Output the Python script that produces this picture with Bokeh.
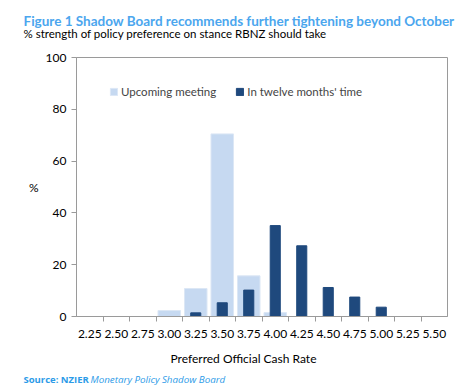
from bokeh.plotting import figure
from bokeh.models import ColumnDataSource, FixedTicker, Label, Legend, LegendItem, Range1d
from bokeh.embed import file_html
from bokeh.resources import INLINE

# ---- data ----
rates = ["2.25", "2.50", "2.75", "3.00", "3.25", "3.50", "3.75",
         "4.00", "4.25", "4.50", "4.75", "5.00", "5.25", "5.50"]
upcoming = [0, 0, 0, 2.3, 10.8, 70.5, 15.7, 1.5, 0, 0, 0, 0, 0, 0]
twelve = [0, 0, 0, 0, 1.4, 5.3, 10.2, 35.1, 27.3, 11.2, 7.5, 3.6, 0, 0]
y_ticks = [0, 20, 40, 60, 80, 100]

title_text = "Figure 1 Shadow Board recommends further tightening beyond October"
subtitle_text = "% strength of policy preference on stance RBNZ should take"
x_label = "Preferred  Official Cash Rate"
y_label = "%"
source_a = "Source: NZIER"
source_b = "Monetary Policy Shadow Board"
names = ["Upcoming meeting", "In twelve months' time"]

FONT = "Lato"
LIGHT = "#C6D9F1"
DARK = "#1F497D"
GRID = "#9A9A9A"
TITLE_BLUE = "#4BA6EE"
SRC_BLUE = "#2C9BE8"

xs = list(range(len(rates)))
src = ColumnDataSource(dict(x=xs, up=upcoming, tw=twelve))

W, H = 470, 388
p = figure(width=W, height=H, output_backend="svg", toolbar_location=None,
           x_range=Range1d(-0.5, len(rates) - 0.5), y_range=Range1d(0, 100),
           min_border_left=76, min_border_right=W - 447, min_border_top=57,
           min_border_bottom=H - 316)
p.title = None
p.outline_line_color = GRID
p.outline_line_width = 1
p.xgrid.visible = False
p.ygrid.visible = False

r1 = p.vbar(x="x", top="up", width=0.85, source=src, fill_color=LIGHT,
            line_color="#DCE7F5", line_width=1)
r2 = p.vbar(x="x", top="tw", width=0.38, source=src, fill_color=DARK,
            line_color=DARK, line_width=1)

# x axis: labels at centers, tick marks at category boundaries
p.xaxis.ticker = FixedTicker(ticks=xs, minor_ticks=[i + 0.5 for i in xs[:-1]])
p.xaxis.major_label_overrides = {i: r for i, r in zip(xs, rates)}
p.xaxis.major_tick_line_color = None
p.xaxis.major_tick_out = 0
p.xaxis.major_tick_in = 0
p.xaxis.minor_tick_line_color = GRID
p.xaxis.minor_tick_out = 5
p.xaxis.minor_tick_in = 0
p.xaxis.axis_line_color = GRID
p.xaxis.major_label_standoff = 8
p.xaxis.major_label_text_font = FONT
p.xaxis.major_label_text_font_size = "12px"
p.xaxis.major_label_text_color = "black"

p.yaxis.ticker = FixedTicker(ticks=y_ticks)
p.yaxis.axis_line_color = GRID
p.yaxis.major_tick_line_color = GRID
p.yaxis.major_tick_out = 5
p.yaxis.major_tick_in = 0
p.yaxis.minor_tick_line_color = None
p.yaxis.major_label_standoff = 5
p.yaxis.major_label_text_font = FONT
p.yaxis.major_label_text_font_size = "12px"
p.yaxis.major_label_text_color = "black"
p.yaxis.axis_label = y_label
p.yaxis.axis_label_orientation = "horizontal"
p.yaxis.axis_label_standoff = 4
p.yaxis.axis_label_text_font = FONT
p.yaxis.axis_label_text_font_size = "12px"
p.yaxis.axis_label_text_font_style = "normal"
p.yaxis.axis_label_text_color = "black"

legend = Legend(items=[LegendItem(label=names[0], renderers=[r1]),
                       LegendItem(label=names[1], renderers=[r2])],
                orientation="horizontal", location=(33, 218),
                padding=0, margin=0, spacing=19, label_standoff=3,
                glyph_width=9, glyph_height=9, label_height=14,
                label_text_font=FONT, label_text_font_size="11.5px",
                border_line_color=None, background_fill_alpha=0)
p.add_layout(legend, "center")


def lab(text, x, y, size, side, color="black", style="normal", align="left", font=FONT):
    p.add_layout(Label(text=text, x=x, y=y, x_units="screen", y_units="screen",
                       text_font=font, text_font_size=size, text_color=color,
                       text_font_style=style, text_align=align,
                       text_baseline="middle"), side)


# above stack: first added sits next to the frame
lab(source_b, 14, -322, "9.8px", "above", color=SRC_BLUE, style="italic", font="Open Sans")
lab(subtitle_text, -53, 11, "11.5px", "above")
lab(title_text, -53, 10.7, "13.5px", "above", color=TITLE_BLUE, style="bold")

# below stack
lab(x_label, 168.5, -3.4, "12px", "below", align="center")
lab(source_a, -53, -10.5, "9.5px", "below", color=SRC_BLUE, style="bold", font="Open Sans")

open("out.html", "w").write(file_html(p, INLINE))
